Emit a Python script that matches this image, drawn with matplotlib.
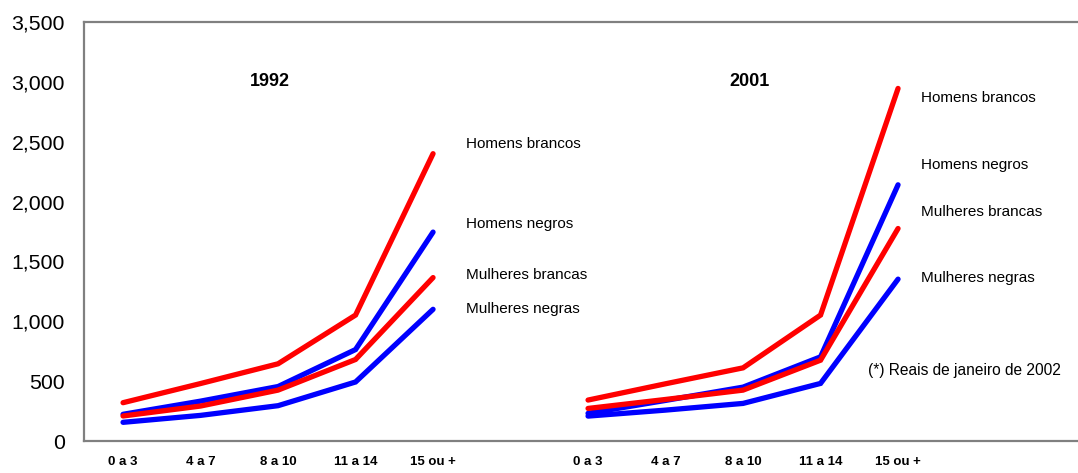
import matplotlib
matplotlib.use("Agg")
import matplotlib.pyplot as plt
import numpy as np
from matplotlib.ticker import FuncFormatter

plt.rcParams['font.family'] = ['Liberation Sans', 'DejaVu Sans']

categorias = ['0 a 3', '4 a 7', '8 a 10', '11 a 14', '15 ou +']
anos = ['1992', '2001']

hb_1992 = [320, 480, 645, 1052, 2400]
hn_1992 = [223, 333, 455, 764, 1745]
mb_1992 = [209, 292, 425, 681, 1365]
mn_1992 = [156, 214, 295, 493, 1100]

hb_2001 = [342, 478, 611, 1052, 2945]
hn_2001 = [231, 339, 450, 703, 2140]
mb_2001 = [272, 347, 425, 675, 1775]
mn_2001 = [208, 258, 314, 481, 1352]

rotulos = ['Homens brancos', 'Homens negros', 'Mulheres brancas', 'Mulheres negras']
nota = '(*) Reais de janeiro de 2002'

W, H = 1078, 473
fig = plt.figure(figsize=(W / 100, H / 100), dpi=100)

# axes: left 84.3px, top 22px, bottom 441px, 13 category slots of 77.5px
left_px, top_px, bot_px = 84.3, 22, 441
slot = 77.5
nslots = 13
ax = fig.add_axes([left_px / W, 1 - bot_px / H, nslots * slot / W, (bot_px - top_px) / H])

x92 = np.arange(5)
x01 = np.arange(5) + 6

red = '#FF0000'
blue = '#0000FF'
lw = 3.8
series92 = [(hb_1992, red), (hn_1992, blue), (mb_1992, red), (mn_1992, blue)]
series01 = [(hb_2001, red), (hn_2001, blue), (mb_2001, red), (mn_2001, blue)]
for vals, c in series92:
    ax.plot(x92, vals, color=c, lw=lw, solid_capstyle='round', solid_joinstyle='miter')
for vals, c in series01:
    ax.plot(x01, vals, color=c, lw=lw, solid_capstyle='round', solid_joinstyle='miter')

ax.set_xlim(-0.5, nslots - 0.5)
ax.set_ylim(0, 3500)
ax.set_yticks(np.arange(0, 3501, 500))
ax.yaxis.set_major_formatter(FuncFormatter(lambda v, p: f'{int(v):,}'))
ax.set_xticks(np.concatenate([x92, x01]))
ax.set_xticklabels(categorias + categorias, fontsize=9.5, fontweight='bold')
ax.tick_params(axis='y', length=0, pad=14, labelsize=15.3)
ax.tick_params(axis='x', length=0, pad=11)

for s in ['left', 'bottom', 'top']:
    ax.spines[s].set_color('#808080')
    ax.spines[s].set_linewidth(1.6)
ax.spines['right'].set_visible(False)

# year titles
fig.text(270 / W, 1 - 82 / H, anos[0], fontsize=13, fontweight='bold', ha='center', va='center')
fig.text(749 / W, 1 - 82 / H, anos[1], fontsize=13, fontweight='bold', ha='center', va='center')

# series labels
lab92_y = [144, 224, 275, 309]
lab01_y = [98, 165, 212, 278]
for t, yy in zip(rotulos, lab92_y):
    fig.text(466 / W, 1 - yy / H, t, fontsize=11, ha='left', va='center')
for t, yy in zip(rotulos, lab01_y):
    fig.text(921 / W, 1 - yy / H, t, fontsize=11, ha='left', va='center')

fig.text(868 / W, 1 - 370 / H, nota, fontsize=11.2, ha='left', va='center')

fig.savefig('out.png', dpi=100)
